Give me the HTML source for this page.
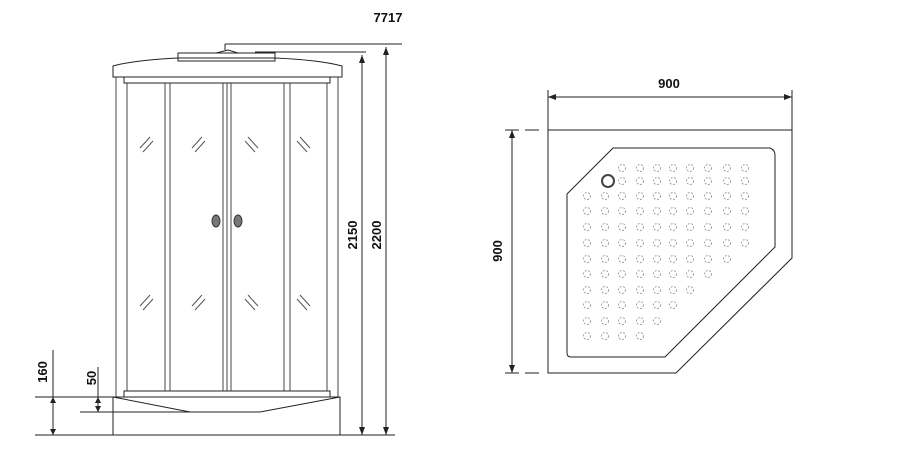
<!DOCTYPE html>
<html><head><meta charset="utf-8"><style>body{margin:0;background:#fff}svg{display:block}text{font-family:"Liberation Sans",sans-serif;font-weight:bold;font-size:13px;fill:#111}</style></head>
<body>
<svg width="907" height="468" viewBox="0 0 907 468" xmlns="http://www.w3.org/2000/svg">
<g stroke="#222" stroke-width="1" fill="none">
<!-- top cap -->
<rect x="178" y="53" width="97" height="8"/>
<path d="M216 53 L228 50 L238 53"/>
<line x1="225" y1="44" x2="225" y2="50"/>
<path d="M113 66 Q135 60 178 58 L275 58 Q320 60 342 66 L342 77 L113 77 Z"/>
<rect x="124" y="77" width="206" height="6"/>
<!-- posts -->
<g stroke="#444">
<line x1="116" y1="77" x2="116" y2="397"/><line x1="127" y1="83" x2="127" y2="391"/>
<line x1="165" y1="83" x2="165" y2="391"/><line x1="170" y1="83" x2="170" y2="391"/>
<line x1="223" y1="83" x2="223" y2="391"/><line x1="227" y1="83" x2="227" y2="391"/><line x1="231" y1="83" x2="231" y2="391"/>
<line x1="284" y1="83" x2="284" y2="391"/><line x1="290" y1="83" x2="290" y2="391"/>
<line x1="327" y1="83" x2="327" y2="391"/><line x1="338" y1="77" x2="338" y2="397"/>
</g>
<!-- glass marks -->
<g stroke="#555">
<path d="M140 148 L150 137 M143 152 L153 141"/><path d="M192 148 L202 137 M195 152 L205 141"/>
<path d="M248 137 L258 148 M245 141 L255 152"/><path d="M300 137 L310 148 M297 141 L307 152"/>
<path d="M140 306 L150 295 M143 310 L153 299"/><path d="M192 306 L202 295 M195 310 L205 299"/>
<path d="M248 295 L258 306 M245 299 L255 310"/><path d="M300 295 L310 306 M297 299 L307 310"/>
</g>
<!-- base -->
<rect x="124" y="391" width="206" height="6"/>
<rect x="113" y="397" width="227" height="38"/>
<path d="M113 397 L190 412 L260 412 L340 397"/>
<!-- dims left -->
<line x1="225" y1="44" x2="402" y2="44"/><line x1="255" y1="52" x2="366" y2="52"/>
<line x1="362" y1="55" x2="362" y2="435"/><line x1="386" y1="47" x2="386" y2="435"/>
<line x1="35" y1="435" x2="395" y2="435"/>
<line x1="35" y1="397" x2="113" y2="397"/><line x1="80" y1="412" x2="190" y2="412"/>
<line x1="53" y1="350" x2="53" y2="435"/><line x1="98" y1="367" x2="98" y2="412"/>
</g>
<g fill="#222">
<path d="M362 55 l-3 8 h6z"/><path d="M362 435 l-3 -8 h6z"/>
<path d="M386 47 l-3 8 h6z"/><path d="M386 435 l-3 -8 h6z"/>
<path d="M53 397 l-3 6 h6z"/><path d="M53 435 l-3 -6 h6z"/>
<path d="M98 397 l-3 6 h6z"/><path d="M98 412 l-3 -6 h6z"/>
</g>
<ellipse cx="216" cy="221" rx="4" ry="6" fill="#777" stroke="#333"/>
<ellipse cx="238" cy="221" rx="4" ry="6" fill="#777" stroke="#333"/>
<text x="388" y="22" text-anchor="middle">7717</text>
<text transform="translate(357,235) rotate(-90)" text-anchor="middle">2150</text>
<text transform="translate(381,235) rotate(-90)" text-anchor="middle">2200</text>
<text transform="translate(47,372) rotate(-90)" text-anchor="middle">160</text>
<text transform="translate(96,378) rotate(-90)" text-anchor="middle">50</text>
<!-- tray -->
<g stroke="#222" fill="none">
<path d="M548 130 L792 130 L792 258 L676 373 L548 373 Z"/>
<path d="M567 194 L613 148 L770 148 Q775 150 775 155 L775 247 L665 357 L571 357 Q567 357 567 353 Z"/>
<line x1="548" y1="97" x2="792" y2="97"/><line x1="548" y1="90" x2="548" y2="130"/><line x1="792" y1="90" x2="792" y2="130"/>
<line x1="512" y1="130" x2="512" y2="373"/>
<line x1="505" y1="130" x2="540" y2="130" stroke-dasharray="14 6"/><line x1="505" y1="373" x2="540" y2="373" stroke-dasharray="14 6"/>
</g>
<g fill="#222"><path d="M548 97 l8 -3 v6z"/><path d="M792 97 l-8 -3 v6z"/><path d="M512 130 l-3 8 h6z"/><path d="M512 373 l-3 -8 h6z"/></g>
<circle cx="608" cy="181" r="6" fill="none" stroke="#444" stroke-width="2"/>
<g fill="none" stroke="#999" stroke-width="0.9" stroke-dasharray="2 1.5">
<circle cx="622" cy="168" r="3.5"/><circle cx="640" cy="168" r="3.5"/><circle cx="657" cy="168" r="3.5"/><circle cx="673" cy="168" r="3.5"/><circle cx="690" cy="168" r="3.5"/><circle cx="708" cy="168" r="3.5"/><circle cx="727" cy="168" r="3.5"/><circle cx="745" cy="168" r="3.5"/>
<circle cx="622" cy="181" r="3.5"/><circle cx="640" cy="181" r="3.5"/><circle cx="657" cy="181" r="3.5"/><circle cx="673" cy="181" r="3.5"/><circle cx="690" cy="181" r="3.5"/><circle cx="708" cy="181" r="3.5"/><circle cx="727" cy="181" r="3.5"/><circle cx="745" cy="181" r="3.5"/>
</g>
<g fill="none" stroke="#999" stroke-width="0.9" stroke-dasharray="2 1.5" id="d"></g>
<g fill="none" stroke="#999" stroke-width="0.9" stroke-dasharray="2 1.5">
<!-- rows generated -->
<circle cx="587" cy="196" r="3.5"/><circle cx="605" cy="196" r="3.5"/><circle cx="622" cy="196" r="3.5"/><circle cx="640" cy="196" r="3.5"/><circle cx="657" cy="196" r="3.5"/><circle cx="673" cy="196" r="3.5"/><circle cx="690" cy="196" r="3.5"/><circle cx="708" cy="196" r="3.5"/><circle cx="727" cy="196" r="3.5"/><circle cx="745" cy="196" r="3.5"/>
<circle cx="587" cy="211" r="3.5"/><circle cx="605" cy="211" r="3.5"/><circle cx="622" cy="211" r="3.5"/><circle cx="640" cy="211" r="3.5"/><circle cx="657" cy="211" r="3.5"/><circle cx="673" cy="211" r="3.5"/><circle cx="690" cy="211" r="3.5"/><circle cx="708" cy="211" r="3.5"/><circle cx="727" cy="211" r="3.5"/><circle cx="745" cy="211" r="3.5"/>
<circle cx="587" cy="227" r="3.5"/><circle cx="605" cy="227" r="3.5"/><circle cx="622" cy="227" r="3.5"/><circle cx="640" cy="227" r="3.5"/><circle cx="657" cy="227" r="3.5"/><circle cx="673" cy="227" r="3.5"/><circle cx="690" cy="227" r="3.5"/><circle cx="708" cy="227" r="3.5"/><circle cx="727" cy="227" r="3.5"/><circle cx="745" cy="227" r="3.5"/>
<circle cx="587" cy="243" r="3.5"/><circle cx="605" cy="243" r="3.5"/><circle cx="622" cy="243" r="3.5"/><circle cx="640" cy="243" r="3.5"/><circle cx="657" cy="243" r="3.5"/><circle cx="673" cy="243" r="3.5"/><circle cx="690" cy="243" r="3.5"/><circle cx="708" cy="243" r="3.5"/><circle cx="727" cy="243" r="3.5"/><circle cx="745" cy="243" r="3.5"/>
<circle cx="587" cy="259" r="3.5"/><circle cx="605" cy="259" r="3.5"/><circle cx="622" cy="259" r="3.5"/><circle cx="640" cy="259" r="3.5"/><circle cx="657" cy="259" r="3.5"/><circle cx="673" cy="259" r="3.5"/><circle cx="690" cy="259" r="3.5"/><circle cx="708" cy="259" r="3.5"/><circle cx="727" cy="259" r="3.5"/>
<circle cx="587" cy="274" r="3.5"/><circle cx="605" cy="274" r="3.5"/><circle cx="622" cy="274" r="3.5"/><circle cx="640" cy="274" r="3.5"/><circle cx="657" cy="274" r="3.5"/><circle cx="673" cy="274" r="3.5"/><circle cx="690" cy="274" r="3.5"/><circle cx="708" cy="274" r="3.5"/>
<circle cx="587" cy="290" r="3.5"/><circle cx="605" cy="290" r="3.5"/><circle cx="622" cy="290" r="3.5"/><circle cx="640" cy="290" r="3.5"/><circle cx="657" cy="290" r="3.5"/><circle cx="673" cy="290" r="3.5"/><circle cx="690" cy="290" r="3.5"/>
<circle cx="587" cy="305" r="3.5"/><circle cx="605" cy="305" r="3.5"/><circle cx="622" cy="305" r="3.5"/><circle cx="640" cy="305" r="3.5"/><circle cx="657" cy="305" r="3.5"/><circle cx="673" cy="305" r="3.5"/>
<circle cx="587" cy="321" r="3.5"/><circle cx="605" cy="321" r="3.5"/><circle cx="622" cy="321" r="3.5"/><circle cx="640" cy="321" r="3.5"/><circle cx="657" cy="321" r="3.5"/>
<circle cx="587" cy="336" r="3.5"/><circle cx="605" cy="336" r="3.5"/><circle cx="622" cy="336" r="3.5"/><circle cx="640" cy="336" r="3.5"/>
</g>
<text x="669" y="88" text-anchor="middle">900</text>
<text transform="translate(502,251) rotate(-90)" text-anchor="middle">900</text>
</svg>
</body></html>
